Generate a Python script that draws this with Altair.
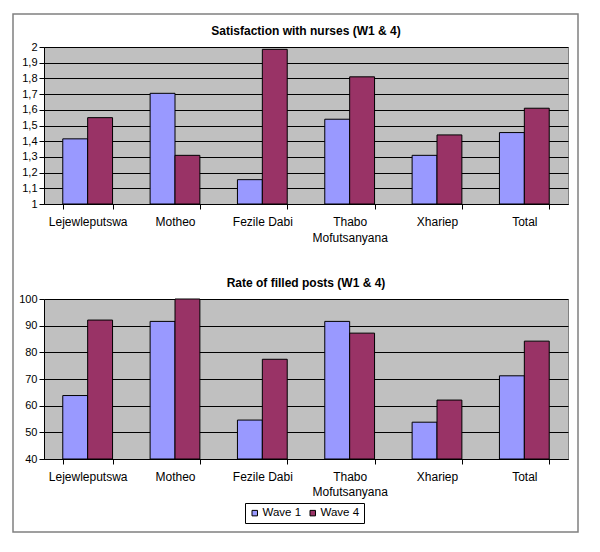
import altair as alt
import pandas as pd

districts = ["Lejewleputswa", "Motheo", "Fezile Dabi", "Thabo Mofutsanyana", "Xhariep", "Total"]
waves = ["Wave 1", "Wave 4"]
colors = ["#9999FF", "#993366"]

sat_w1 = [1.415, 1.705, 1.155, 1.54, 1.31, 1.455]
sat_w4 = [1.55, 1.31, 1.985, 1.81, 1.44, 1.61]
posts_w1 = [63.8, 91.6, 54.6, 91.6, 53.8, 71.2]
posts_w4 = [92.1, 100, 77.4, 87.2, 62.1, 84.2]

sat_ticks = [1, 1.1, 1.2, 1.3, 1.4, 1.5, 1.6, 1.7, 1.8, 1.9, 2]
post_ticks = [40, 50, 60, 70, 80, 90, 100]

titles = ["Satisfaction with nurses (W1 & 4)", "Rate of filled posts (W1 & 4)"]


def long_df(w1, w4):
    rows = []
    for d, a, b in zip(districts, w1, w4):
        rows.append({"district": d, "wave": waves[0], "value": a})
        rows.append({"district": d, "wave": waves[1], "value": b})
    return pd.DataFrame(rows)


x_label_expr = "datum.label == 'Thabo Mofutsanyana' ? ['Thabo', 'Mofutsanyana'] : datum.label"
y_label_expr = "replace(format(datum.value, '.1~f'), '.', ',')"

W = 524


def panel(df, title, dom, ticks, h, line_h, border=False):
    bars = alt.Chart(df).mark_bar(stroke="black", strokeWidth=1).encode(
        x=alt.X("district:N", sort=districts, title=None,
                scale=alt.Scale(paddingInner=0.43, paddingOuter=0.215),
                axis=alt.Axis(labelAngle=0, tickBand="extent", labelExpr=x_label_expr,
                              domainColor="black", tickColor="black", tickSize=5,
                              labelPadding=7, labelLineHeight=line_h, grid=False,
                              labelFontSize=12)),
        xOffset=alt.XOffset("wave:N", sort=waves, scale=alt.Scale(paddingInner=0, paddingOuter=0)),
        y=alt.Y("value:Q", title=None,
                scale=alt.Scale(domain=dom, zero=False, nice=False),
                axis=alt.Axis(values=ticks, labelExpr=y_label_expr, grid=True, gridColor="black",
                              gridOpacity=1, tickSize=5, domainColor="black", tickColor="black",
                              labelPadding=2, labelFontSize=11)),
        y2=alt.datum(dom[0]),
        color=alt.Color("wave:N", sort=waves, scale=alt.Scale(domain=waves, range=colors),
                        legend=alt.Legend(title=None, orient="none", legendX=201, legendY=456,
                                          direction="horizontal",
                                          symbolType="square", symbolSize=30,
                                          symbolStrokeColor="black", symbolStrokeWidth=1,
                                          strokeColor="black", padding=4, columnPadding=5,
                                          labelFontSize=11.5, labelOffset=2)),
    )
    title_mark = alt.Chart(pd.DataFrame({"t": [title]})).mark_text(
        fontSize=12, fontWeight="bold", font="Liberation Sans", color="black",
        align="center", baseline="middle"
    ).encode(text="t:N", x=alt.value(W / 2), y=alt.value(-16))
    layers = [bars, title_mark]
    if border:
        frame = alt.Chart(pd.DataFrame({"k": [0]})).mark_rect(
            filled=False, stroke="#808080", strokeWidth=1.5
        ).encode(x=alt.value(-31), x2=alt.value(534), y=alt.value(-33), y2=alt.value(485))
        layers.append(frame)
    return alt.layer(*layers).properties(width=W, height=h)


top = panel(long_df(sat_w1, sat_w4), titles[0], [1, 2], sat_ticks, 157, 16, border=True)
bottom = panel(long_df(posts_w1, posts_w4), titles[1], [40, 100], post_ticks, 160, 15)

chart = alt.vconcat(top, bottom, spacing=95, bounds="flush").properties(
    padding={"left": 3, "top": 4, "right": 4, "bottom": 4},
    background="white",
).configure(
    font="Liberation Sans",
).configure_view(
    fill="#C0C0C0", stroke="#808080", strokeWidth=1,
).configure_axis(
    labelColor="black", labelFont="Liberation Sans",
)

chart.save("out.html", embed_options={"renderer": "svg", "actions": False})
